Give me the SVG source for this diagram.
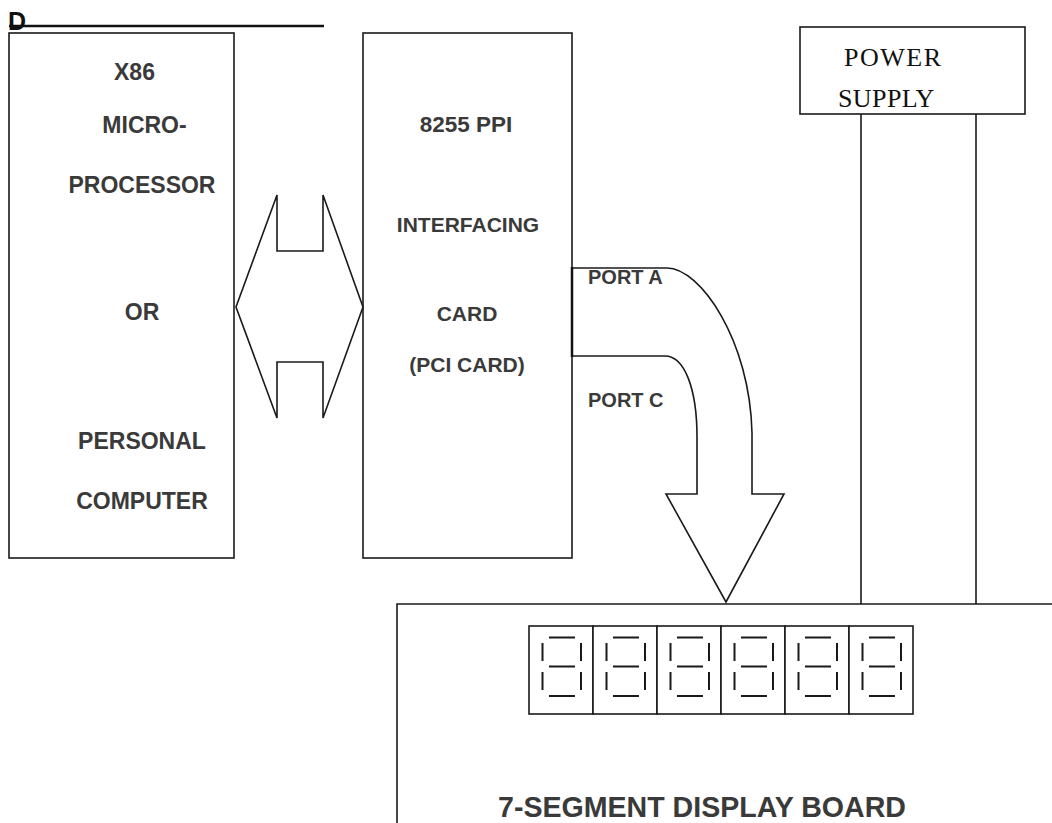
<svg xmlns="http://www.w3.org/2000/svg" width="1052" height="823" viewBox="0 0 1052 823">
<style>
.box{fill:#fff;stroke:#1a1a1a;stroke-width:1.6}
.ln{fill:none;stroke:#1a1a1a;stroke-width:1.6}
.t{font-family:"Liberation Sans",Arial,sans-serif;font-weight:bold;fill:#3a3a3a;text-anchor:middle}
.s{font-family:"Liberation Serif","Times New Roman",serif;fill:#111;font-size:26px}
.seg{stroke:#1a1a1a;stroke-width:2;fill:none}
.dig{fill:#fff;stroke:#1a1a1a;stroke-width:1.6}
</style>
<defs>
<g id="digit">
<rect class="dig" x="0" y="0" width="64" height="88"/>
<path class="seg" d="M20,11.5H46M20,40.5H46M20,70H46M13.5,17V35M13.5,46V64M52,17V35M52,46V64"/>
</g>
</defs>
<rect width="1052" height="823" fill="#fff"/>
<g id="title-d">
<text x="8" y="30" style="font-family:'Liberation Sans',Arial,sans-serif;font-weight:bold;font-size:25px;fill:#111">D</text>
<line x1="9" y1="26" x2="324" y2="26" stroke="#111" stroke-width="2.5"/>
</g>
<g id="cpu">
<rect class="box" x="9" y="33" width="225" height="525"/>
<g class="t" font-size="23">
<text x="134.5" y="80">X86</text>
<text x="144.5" y="133">MICRO-</text>
<text x="142" y="193">PROCESSOR</text>
<text x="142" y="320">OR</text>
<text x="142" y="449">PERSONAL</text>
<text x="142" y="509">COMPUTER</text>
</g>
</g>
<g id="ppi">
<rect class="box" x="363" y="33" width="209" height="525"/>
<g class="t" font-size="21">
<text x="466" y="132" font-size="22.5">8255 PPI</text>
<text x="468" y="232">INTERFACING</text>
<text x="467" y="321">CARD</text>
<text x="467" y="372">(PCI CARD)</text>
</g>
</g>
<g id="power">
<rect class="box" x="800" y="27" width="225" height="87"/>
<text class="s" x="844" y="66" letter-spacing="1.5">POWER</text>
<text class="s" x="838" y="107" letter-spacing="0.4">SUPPLY</text>
</g>
<g id="board">
<path class="ln" d="M397,823V604H1052"/>
<use href="#digit" x="529" y="626"/>
<use href="#digit" x="593" y="626"/>
<use href="#digit" x="657" y="626"/>
<use href="#digit" x="721" y="626"/>
<use href="#digit" x="785" y="626"/>
<use href="#digit" x="849" y="626"/>
<text class="t" x="498" y="817" font-size="30" textLength="408" lengthAdjust="spacingAndGlyphs" style="text-anchor:start">7-SEGMENT DISPLAY BOARD</text>
</g>
<g id="connectors">
<polygon class="ln" points="236,307 277,195 277,251 323,251 323,195 363,307 323,418 323,362 277,362 277,418"/>
<path class="ln" d="M572,268H667C700,268 750,340 752,433V494H784L726,602L666,494H697V437C697,390 685,356 665,356H572"/>
<line x1="572" y1="267" x2="572" y2="357" stroke="#111" stroke-width="2.5"/>
<line class="ln" x1="861" y1="114" x2="861" y2="604"/>
<line class="ln" x1="976" y1="114" x2="976" y2="604"/>
<g class="t" font-size="20" style="text-anchor:start">
<text x="588" y="284">PORT A</text>
<text x="588" y="407">PORT C</text>
</g>
</g>
</svg>
